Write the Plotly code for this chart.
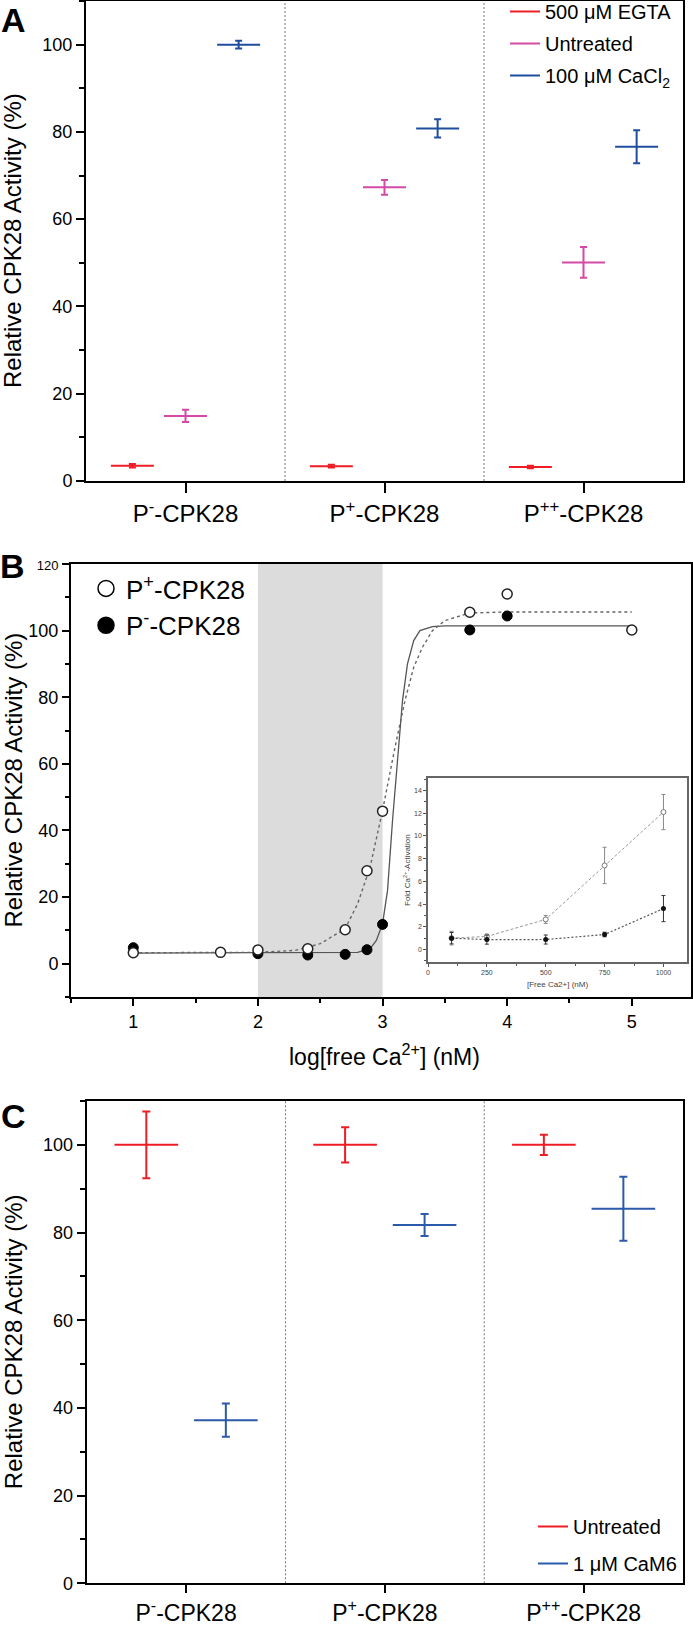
import plotly.graph_objects as go

W, H = 693, 1625
FONT = "Liberation Sans, Arial, sans-serif"

# ---------------- Panel A data ----------------
categories = ["P<sup>-</sup>-CPK28", "P<sup>+</sup>-CPK28", "P<sup>++</sup>-CPK28"]
a_egta = [3.5, 3.4, 3.2]
a_egta_err = [0.4, 0.3, 0.3]
a_untreated = [14.9, 67.3, 50.1]
a_untreated_err = [1.4, 1.7, 3.5]
a_cacl2 = [100.0, 80.8, 76.6]
a_cacl2_err = [0.9, 2.1, 3.8]

# ---------------- Panel B data ----------------
b_logca_plus = [1, 1.7, 2, 2.4, 2.7, 2.875, 3, 3.7, 4, 5]
b_act_plus = [3.3, 3.4, 4.1, 4.5, 10.2, 27.9, 45.8, 105.5, 111.0, 100.2]
b_logca_minus = [1, 2, 2.4, 2.7, 2.875, 3, 3.7, 4]
b_act_minus = [4.8, 3.0, 2.6, 2.8, 4.2, 11.8, 100.2, 104.4]
# fitted curves
fit_plus_x = [1.0, 2.0, 2.3, 2.5, 2.7, 2.8, 2.9, 3.0, 3.1, 3.18, 3.25, 3.32, 3.4, 3.5, 3.7, 4.0, 5.0]
fit_plus_y = [3.3, 3.4, 4.0, 6.0, 10.5, 18.0, 29.0, 46.0, 65.0, 79.0, 89.0, 95.0, 100.0, 103.0, 105.3, 105.6, 105.6]
fit_minus_x = [1.0, 2.5, 2.8, 2.9, 2.95, 3.0, 3.04, 3.08, 3.12, 3.16, 3.2, 3.25, 3.3, 3.4, 3.5, 5.0]
fit_minus_y = [3.2, 3.2, 3.4, 4.5, 7.0, 12.0, 22.0, 43.0, 62.0, 79.0, 90.0, 97.0, 100.0, 101.2, 101.4, 101.4]
shade_range = [2, 3]

# inset
ins_ca = [100, 250, 500, 750, 1000]
ins_plus = [1.0, 1.15, 2.65, 7.4, 12.1]
ins_plus_err = [0.6, 0.2, 0.35, 1.6, 1.55]
ins_minus = [1.0, 0.87, 0.88, 1.32, 3.6]
ins_minus_err = [0.5, 0.4, 0.4, 0.2, 1.15]

# ---------------- Panel C data ----------------
c_untreated = [100.0, 100.0, 100.0]
c_untreated_err = [7.6, 4.0, 2.3]
c_cam6 = [37.2, 81.7, 85.4]
c_cam6_err = [3.8, 2.5, 7.3]

RED = "#EE1C25"
MAG = "#D44AA6"
BLUE = "#1F4E9E"
BLUE_C = "#2B5AAB"

pos = [1, 2, 3]

fig = go.Figure()


def cross(xs, ys, errs, color, halfw, cap, xa, ya):
    fig.add_trace(go.Scatter(
        x=xs, y=ys, mode="markers", xaxis=xa, yaxis=ya, showlegend=False,
        marker=dict(size=2, color=color),
        error_y=dict(type="data", array=errs, visible=True, color=color, thickness=2, width=cap),
        error_x=dict(type="constant", value=halfw, visible=True, color=color, thickness=2, width=0),
        hoverinfo="skip"))


# Panel A
offA = 0.267
cross([p - offA for p in pos], a_egta, a_egta_err, RED, 0.108, 3.5, "x", "y")
cross(pos, a_untreated, a_untreated_err, MAG, 0.108, 3.5, "x", "y")
cross([p + offA for p in pos], a_cacl2, a_cacl2_err, BLUE, 0.108, 3.5, "x", "y")
for i, (name, col) in enumerate([("500 \u03bcM EGTA", RED), ("Untreated", MAG),
                                 ("100 \u03bcM CaCl<sub>2</sub>", BLUE)]):
    fig.add_trace(go.Scatter(x=[None], y=[None], mode="lines", name=name, xaxis="x", yaxis="y",
                             line=dict(color=col, width=2), legend="legend", legendgroup="a%d" % i))

# Panel B
fig.add_trace(go.Scatter(x=fit_minus_x, y=fit_minus_y, mode="lines", xaxis="x2", yaxis="y2",
                         line=dict(color="#555555", width=1.3), showlegend=False, hoverinfo="skip"))
fig.add_trace(go.Scatter(x=fit_plus_x, y=fit_plus_y, mode="lines", xaxis="x2", yaxis="y2",
                         line=dict(color="#666666", width=1.4, dash="3px,3px"), showlegend=False, hoverinfo="skip"))
fig.add_trace(go.Scatter(x=b_logca_minus, y=b_act_minus, mode="markers", xaxis="x2", yaxis="y2",
                         marker=dict(size=10, color="black", line=dict(color="black", width=1)),
                         showlegend=False))
fig.add_trace(go.Scatter(x=b_logca_plus, y=b_act_plus, mode="markers", xaxis="x2", yaxis="y2",
                         marker=dict(size=10, color="white", line=dict(color="#222222", width=1.5)),
                         showlegend=False))
fig.add_trace(go.Scatter(x=[None], y=[None], mode="markers", name="P<sup>+</sup>-CPK28", xaxis="x2", yaxis="y2",
                         marker=dict(size=16, color="white", line=dict(color="black", width=1.5)), legend="legend2"))
fig.add_trace(go.Scatter(x=[None], y=[None], mode="markers", name="P<sup>-</sup>-CPK28", xaxis="x2", yaxis="y2",
                         marker=dict(size=16, color="black", line=dict(color="black", width=1.5)), legend="legend2"))

# Inset
fig.add_trace(go.Scatter(x=ins_ca, y=ins_plus, mode="lines+markers", xaxis="x4", yaxis="y4",
                         line=dict(color="#999999", width=1, dash="3px,2px"),
                         marker=dict(size=5, color="white", line=dict(color="#777777", width=1)),
                         error_y=dict(type="data", array=ins_plus_err, color="#888888", thickness=1, width=2),
                         showlegend=False))
fig.add_trace(go.Scatter(x=ins_ca, y=ins_minus, mode="lines+markers", xaxis="x4", yaxis="y4",
                         line=dict(color="#555555", width=1.2, dash="2px,2px"),
                         marker=dict(size=5, color="#111111"),
                         error_y=dict(type="data", array=ins_minus_err, color="#333333", thickness=1, width=2),
                         showlegend=False))

# Panel C
offC = 0.2
cross([p - offC for p in pos], c_untreated, c_untreated_err, RED, 0.16, 4, "x3", "y3")
cross([p + offC for p in pos], c_cam6, c_cam6_err, BLUE_C, 0.16, 4, "x3", "y3")
for i, (name, col) in enumerate([("Untreated", RED), ("1 \u03bcM CaM6", BLUE_C)]):
    fig.add_trace(go.Scatter(x=[None], y=[None], mode="lines", name=name, xaxis="x3", yaxis="y3",
                             line=dict(color=col, width=2), legend="legend3", legendgroup="g%d" % i))


def px_x(p):
    return p / W


def px_y(p):
    return 1 - p / H


axis_common = dict(showgrid=False, zeroline=False, showline=True, mirror=True, linecolor="black",
                   linewidth=2, ticks="outside", tickcolor="black", tickwidth=2)

yA_minor = dict(tickmode="array", tickvals=[10, 30, 50, 70, 90, 110], ticklen=5, tickwidth=1.5,
                ticks="outside", tickcolor="black")

fig.update_layout(
    width=W, height=H, autosize=False,
    margin=dict(l=0, r=0, t=0, b=0, autoexpand=False),
    paper_bgcolor="white", plot_bgcolor="white",
    font=dict(family=FONT, color="black"),
    xaxis=dict(domain=[px_x(86), px_x(683)], range=[0.5, 3.5], anchor="y",
               tickmode="array", tickvals=pos, ticktext=categories, ticklen=10,
               tickfont=dict(size=24), **axis_common),
    yaxis=dict(domain=[px_y(481), px_y(1)], range=[0, 110], anchor="x",
               tickmode="linear", tick0=0, dtick=20, ticklen=8, tickfont=dict(size=18),
               minor=yA_minor, **axis_common),
    xaxis2=dict(domain=[px_x(71), px_x(691)], range=[0.5, 5.475], anchor="y2",
                tickmode="linear", tick0=1, dtick=1, ticklen=7, tickfont=dict(size=18),
                minor=dict(tickmode="array", tickvals=[0.5, 1.5, 2.5, 3.5, 4.5], ticklen=4,
                           tickwidth=1.5, ticks="outside", tickcolor="black"),
                **axis_common),
    yaxis2=dict(domain=[px_y(997), px_y(564)], range=[-10, 120], anchor="x2",
                tickmode="array", tickvals=[0, 20, 40, 60, 80, 100, 120],
                ticktext=["0", "20", "40", "60", "80", "100", "<span style='font-size:13px'>120</span>"],
                ticklen=7, tickfont=dict(size=18),
                minor=dict(tickmode="array", tickvals=[-10, 10, 30, 50, 70, 90, 110], ticklen=4,
                           tickwidth=1.5, ticks="outside", tickcolor="black"),
                **axis_common),
    xaxis3=dict(domain=[px_x(86.7), px_x(683)], range=[0.5, 3.5], anchor="y3",
                tickmode="array", tickvals=pos, ticktext=categories, ticklen=8,
                tickfont=dict(size=23), **axis_common),
    yaxis3=dict(domain=[px_y(1583.3), px_y(1101)], range=[0, 110], anchor="x3",
                tickmode="linear", tick0=0, dtick=20, ticklen=8, tickfont=dict(size=18),
                minor=yA_minor, **axis_common),
    xaxis4=dict(domain=[px_x(428), px_x(687)], range=[0, 1100], anchor="y4",
                showgrid=False, zeroline=False, showline=True, mirror=True, linecolor="#666666", linewidth=1.5,
                ticks="outside", ticklen=3, tickwidth=1, tickcolor="#555555",
                tickmode="linear", tick0=0, dtick=250, tickfont=dict(size=7, color="#444444"),
                minor=dict(tickmode="linear", tick0=125, dtick=250, ticklen=2, ticks="outside", tickcolor="#555555")),
    yaxis4=dict(domain=[px_y(962), px_y(778)], range=[-1.1, 15.1], anchor="x4",
                showgrid=False, zeroline=False, showline=True, mirror=True, linecolor="#666666", linewidth=1.5,
                ticks="outside", ticklen=3, tickwidth=1, tickcolor="#555555",
                tickmode="linear", tick0=0, dtick=2, tickfont=dict(size=7, color="#444444"),
                minor=dict(tickmode="linear", tick0=1, dtick=2, ticklen=2, ticks="outside", tickcolor="#555555")),
    legend=dict(x=px_x(505), y=px_y(-8), xanchor="left", yanchor="top", font=dict(size=20),
                bgcolor="rgba(0,0,0,0)", borderwidth=0, tracegroupgap=3),
    legend2=dict(x=px_x(86), y=px_y(565), xanchor="left", yanchor="top", font=dict(size=26),
                 bgcolor="rgba(0,0,0,0)", borderwidth=0, itemsizing="trace"),
    legend3=dict(x=px_x(533), y=px_y(1507), xanchor="left", yanchor="top", font=dict(size=20),
                 bgcolor="rgba(0,0,0,0)", borderwidth=0, tracegroupgap=8),
)

shapes = []
for xr, yr in [("x", "y domain"), ("x3", "y3 domain")]:
    for sx in [1.5, 2.5]:
        shapes.append(dict(type="line", xref=xr, yref=yr, x0=sx, x1=sx, y0=0, y1=1,
                           line=dict(color="#777777", width=1, dash="2px,2px"), layer="below"))
shapes.append(dict(type="rect", xref="x2", yref="y2 domain", x0=shade_range[0], x1=shade_range[1],
                   y0=0, y1=1, fillcolor="#DBDCDB", line=dict(width=0), layer="below"))
fig.update_layout(shapes=shapes)

ytitle = "Relative CPK28 Activity (%)"
ann = []
for cy in [(1 + 481) / 2, (564 + 997) / 2, (1101 + 1583.3) / 2]:
    ann.append(dict(text=ytitle, xref="paper", yref="paper", x=px_x(13), y=px_y(cy),
                    xanchor="center", yanchor="middle", textangle=-90, showarrow=False,
                    font=dict(size=24)))
ann.append(dict(text="log[free Ca<sup>2+</sup>] (nM)", xref="paper", yref="paper", x=px_x(384), y=px_y(1055),
                xanchor="center", yanchor="middle", showarrow=False, font=dict(size=23)))
ann.append(dict(text="Fold Ca<sup>2+</sup>-Activation", xref="paper", yref="paper", x=px_x(407), y=px_y(870),
                xanchor="center", yanchor="middle", textangle=-90, showarrow=False,
                font=dict(size=8, color="#444444")))
ann.append(dict(text="[Free Ca2+] (nM)", xref="paper", yref="paper", x=px_x(557), y=px_y(984),
                xanchor="center", yanchor="middle", showarrow=False, font=dict(size=8, color="#444444")))
for lab, cx, cy in [("A", 13, 20), ("B", 12, 566), ("C", 13, 1116)]:
    ann.append(dict(text="<b>%s</b>" % lab, xref="paper", yref="paper", x=px_x(cx), y=px_y(cy),
                    xanchor="center", yanchor="middle", showarrow=False, font=dict(size=34)))
fig.update_layout(annotations=ann)

fig.write_html("out.html", config={"displayModeBar": False},
               post_script="document.body.style.margin='0';document.body.style.overflow='hidden';")
